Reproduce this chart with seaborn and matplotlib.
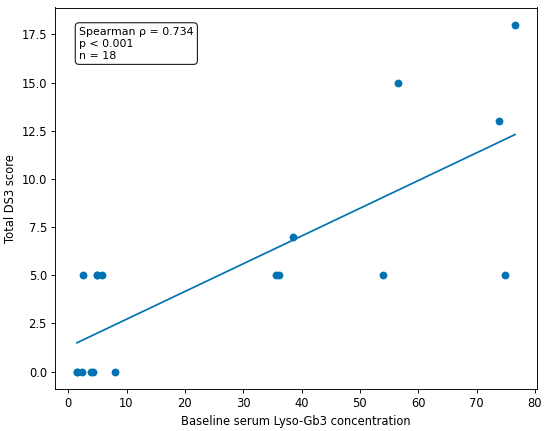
import matplotlib
matplotlib.use("Agg")
import matplotlib.pyplot as plt
import seaborn as sns
import numpy as np
import pandas as pd

lyso_gb3 = [1.5, 1.5, 2.4, 3.9, 4.2, 8.0,
            2.6, 4.9, 5.0, 5.8, 35.6, 36.1, 54.0, 74.9,
            38.5, 56.6, 73.8, 76.6]
ds3_score = [0, 0, 0, 0, 0, 0,
             5, 5, 5, 5, 5, 5, 5, 5,
             7, 15, 13, 18]
annotation = "Spearman \u03c1 = 0.734\np < 0.001\nn = 18"

df = pd.DataFrame({"x": lyso_gb3, "y": ds3_score})
color = sns.color_palette("colorblind")[0]

DPI = 83
fig, ax = plt.subplots(figsize=(550 / DPI, 431 / DPI), dpi=DPI)
sns.regplot(data=df, x="x", y="y", ax=ax, ci=None, color=color,
            scatter_kws={"s": 46, "alpha": 1, "linewidths": 0},
            line_kws={"linewidth": 1.5})
ax.set_xlabel("Baseline serum Lyso-Gb3 concentration")
ax.set_ylabel("Total DS3 score")
ax.set_yticks(np.arange(0, 18.1, 2.5))
ax.text(0.05, 0.95, annotation, transform=ax.transAxes, va="top", ha="left",
        fontsize=9.5, linespacing=1.25,
        bbox=dict(boxstyle="round,pad=0.35", facecolor="white", edgecolor="#222222"))
fig.subplots_adjust(left=55 / 550, right=537 / 550, top=1 - 7.5 / 431, bottom=1 - 389 / 431)
fig.savefig("out.png", dpi=DPI)
